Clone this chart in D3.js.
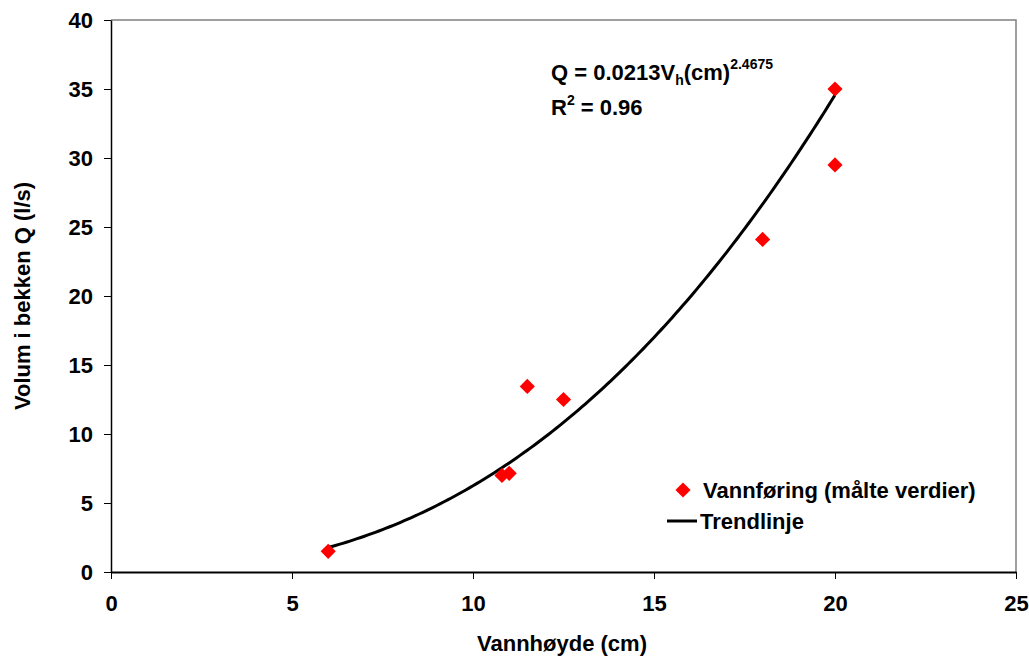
<!DOCTYPE html>
<html>
<head>
<meta charset="utf-8">
<script src="https://cdn.jsdelivr.net/npm/d3@7"></script>
<style>
  body { margin: 0; background: #fff; }
  svg { display: block; font-family: "Liberation Sans", Arial, sans-serif; font-weight: bold; }
</style>
</head>
<body>
<svg id="chart" width="1029" height="657"></svg>
<script>
// Measured water height (cm) and flow (l/s)
const heights = [6, 10.8, 11, 11.5, 12.5, 18, 20, 20];
const flows   = [1.5, 7.0, 7.15, 13.45, 12.5, 24.1, 35.0, 29.5];

// Power-law trend: Q = a * h^b
const trendA = 0.0213;
const trendB = 2.4675;
const trendRange = [6, 20];

const xTicks = [0, 5, 10, 15, 20, 25];
const yTicks = [0, 5, 10, 15, 20, 25, 30, 35, 40];

(function draw() {
  const svg = d3.select("#chart");
  const pL = 111, pR = 1016, pT = 20, pB = 572;
  const fs = 22, fsSmall = 14;

  const x = d3.scaleLinear().domain([0, 25]).range([pL, pR]);
  const y = d3.scaleLinear().domain([0, 40]).range([pB, pT]);

  // Plot frame (top/right in grey)
  svg.append("path")
    .attr("d", `M${pL},${pT}H${pR}V${pB}`)
    .attr("fill", "none").attr("stroke", "#808080").attr("stroke-width", 1.5);

  // Axes
  const xAxis = svg.append("g").attr("transform", `translate(0,${pB})`)
    .call(d3.axisBottom(x).tickValues(xTicks).tickSize(7).tickSizeOuter(0).tickPadding(16));
  const yAxis = svg.append("g").attr("transform", `translate(${pL},0)`)
    .call(d3.axisLeft(y).tickValues(yTicks).tickSize(7).tickSizeOuter(0).tickPadding(11));
  [xAxis, yAxis].forEach(g => {
    g.select(".domain").attr("stroke", "#000").attr("stroke-width", 1.5);
    g.selectAll(".tick line").attr("stroke", "#000").attr("stroke-width", 1);
    g.selectAll(".tick text").attr("font-size", fs).attr("font-weight", "bold")
      .attr("font-family", "Liberation Sans, Arial, sans-serif").attr("fill", "#000");
  });
  xAxis.select(".domain").attr("stroke-width", 2);

  // Axis titles
  svg.append("text").attr("x", 562).attr("y", 651)
    .attr("text-anchor", "middle").attr("font-size", fs).text("Vannhøyde (cm)");
  svg.append("text").attr("transform", `translate(30,${(pT + pB) / 2}) rotate(-90)`)
    .attr("text-anchor", "middle").attr("font-size", fs).text("Volum i bekken Q (l/s)");

  // Trend line
  const trendPts = d3.range(trendRange[0], trendRange[1] + 0.001, 0.1)
    .map(h => [h, trendA * Math.pow(h, trendB)]);
  svg.append("path").datum(trendPts)
    .attr("fill", "none").attr("stroke", "#000").attr("stroke-width", 3)
    .attr("d", d3.line().x(d => x(d[0])).y(d => y(d[1])));

  // Measured points as red diamonds
  const diamond = d3.symbol().type(d3.symbolSquare).size(115);
  svg.append("g").selectAll("path").data(heights.map((h, i) => [h, flows[i]]))
    .join("path")
    .attr("d", diamond)
    .attr("transform", d => `translate(${x(d[0])},${y(d[1])}) rotate(45)`)
    .attr("fill", "#ff0000");

  // Equation annotation
  const eq = svg.append("text").attr("x", 551).attr("y", 80).attr("font-size", fs);
  eq.append("tspan").text("Q = 0.0213V");
  eq.append("tspan").attr("font-size", fsSmall).attr("dy", 5).text("h");
  eq.append("tspan").attr("dy", -5).text("(cm)");
  eq.append("tspan").attr("font-size", fsSmall).attr("dy", -11).text("2.4675");
  const r2 = svg.append("text").attr("x", 551).attr("y", 115).attr("font-size", fs);
  r2.append("tspan").text("R");
  r2.append("tspan").attr("font-size", fsSmall).attr("dy", -10).text("2");
  r2.append("tspan").attr("dy", 10).text(" = 0.96");

  // Legend
  const lg = svg.append("g");
  lg.append("path").attr("d", diamond)
    .attr("transform", `translate(683,490) rotate(45)`).attr("fill", "#ff0000");
  lg.append("text").attr("x", 703).attr("y", 498).attr("font-size", fs).text("Vannføring (målte verdier)");
  lg.append("line").attr("x1", 667).attr("x2", 697).attr("y1", 521).attr("y2", 521)
    .attr("stroke", "#000").attr("stroke-width", 3);
  lg.append("text").attr("x", 700).attr("y", 529).attr("font-size", fs).text("Trendlinje");
})();
</script>
</body>
</html>
